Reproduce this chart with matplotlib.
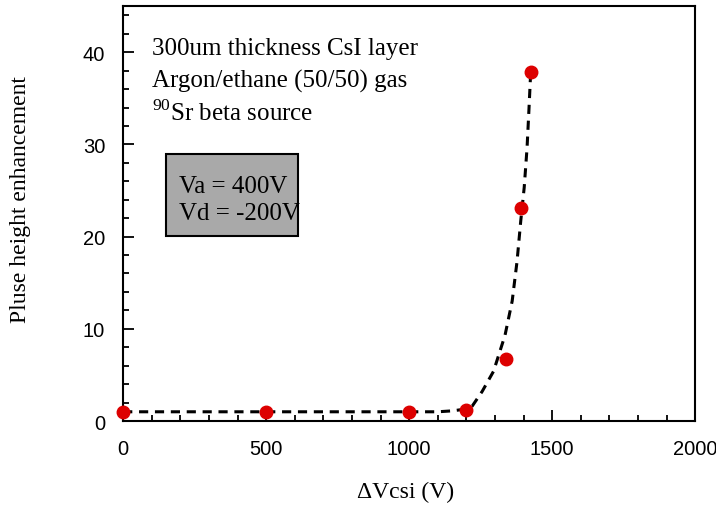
import matplotlib
matplotlib.use("Agg")
import matplotlib.pyplot as plt
from matplotlib.patches import Rectangle
from matplotlib.ticker import MultipleLocator

plt.rcParams['mathtext.fontset'] = 'custom'
plt.rcParams['mathtext.rm'] = 'Liberation Serif'

# measured points
dv = [0, 500, 1000, 1200, 1340, 1390, 1425]
gain = [1.0, 1.0, 1.0, 1.2, 6.7, 23.1, 37.9]

# dashed fit curve
fit_x = [0, 1100, 1150, 1200, 1220, 1255, 1295, 1335, 1360, 1377, 1390, 1402, 1412, 1419, 1425]
fit_y = [1.0, 1.0, 1.1, 1.3, 1.6, 3.2, 5.4, 9.3, 13.0, 17.3, 21.7, 25.3, 29.6, 34.0, 38.0]

serif = 'Liberation Serif'
sans = 'Liberation Sans'

fig = plt.figure(figsize=(7.16, 5.06), dpi=100)
ax = fig.add_axes([0.172, 0.166, 0.799, 0.82])

ax.plot(fit_x, fit_y, color='black', lw=2.2, linestyle=(0, (3, 2.2)), zorder=2)
ax.plot(dv, gain, 'o', color='#dd0000', ms=9, mec='#dd0000', zorder=3, clip_on=False)

ax.set_xlim(0, 2000)
ax.set_ylim(0, 45)
ax.xaxis.set_major_locator(MultipleLocator(500))
ax.xaxis.set_minor_locator(MultipleLocator(100))
ax.yaxis.set_major_locator(MultipleLocator(10))
ax.yaxis.set_minor_locator(MultipleLocator(2))
ax.tick_params(which='both', direction='in', width=1.3, top=False, right=False)
ax.tick_params(which='major', length=8, pad=13, labelsize=14.5)
ax.tick_params(which='minor', length=4.5)
for lab in ax.get_xticklabels() + ax.get_yticklabels():
    lab.set_fontfamily(sans)
for s in ax.spines.values():
    s.set_linewidth(1.5)

ax.set_xlabel('\u0394Vcsi (V)', fontfamily=serif, fontsize=17, labelpad=18)
ax.xaxis.set_label_coords(0.493, -0.145)
ax.set_ylabel('Pluse height enhancement', fontfamily=serif, fontsize=17, va='center')
ax.yaxis.set_label_coords(-0.18, 0.535)

ax.text(0.05, 0.884, '300um thickness CsI layer', transform=ax.transAxes,
        fontfamily=serif, fontsize=18, va='baseline')
ax.text(0.05, 0.805, 'Argon/ethane (50/50) gas', transform=ax.transAxes,
        fontfamily=serif, fontsize=18, va='baseline')
ax.text(0.05, 0.725, r'$^{90}$Sr beta source', transform=ax.transAxes,
        fontfamily=serif, fontsize=18, va='baseline')

ax.add_patch(Rectangle((0.075, 0.446), 0.231, 0.197, transform=ax.transAxes,
                       facecolor='#a9a9a9', edgecolor='black', lw=1.5, zorder=1))
ax.text(0.097, 0.552, 'Va = 400V', transform=ax.transAxes,
        fontfamily=serif, fontsize=18, va='baseline')
ax.text(0.097, 0.487, 'Vd = -200V', transform=ax.transAxes,
        fontfamily=serif, fontsize=18, va='baseline')

fig.savefig('out.png', dpi=100)
